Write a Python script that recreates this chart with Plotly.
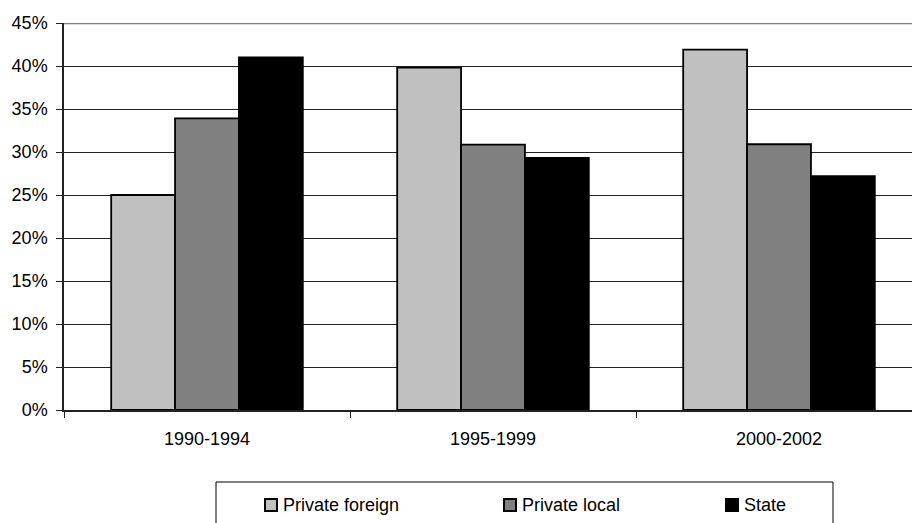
import plotly.graph_objects as go

# ---- data ----
periods = ["1990-1994", "1995-1999", "2000-2002"]
series_names = ["Private foreign", "Private local", "State"]
private_foreign = [25.0, 39.8, 41.9]
private_local = [33.9, 30.85, 30.9]
state = [41.0, 29.3, 27.2]
series_values = [private_foreign, private_local, state]
series_colors = ["#C0C0C0", "#808080", "#000000"]
y_tick_vals = [0, 5, 10, 15, 20, 25, 30, 35, 40, 45]
y_tick_text = ["0%", "5%", "10%", "15%", "20%", "25%", "30%", "35%", "40%", "45%"]

# ---- layout geometry (pixels) ----
W, H = 912, 523
L, R, T, B = 64, 0, 23, 113
PW = W - L - R
PH = H - T - B
CAT_W = 286.0  # pixels per category
FONT = "Liberation Sans, Arial, sans-serif"


def px_x(px):
    return (px - L) / PW


def px_y(py):
    return (H - B - py) / PH


fig = go.Figure()
for name, vals, col in zip(series_names, series_values, series_colors):
    fig.add_trace(go.Bar(
        x=periods, y=vals, name=name,
        marker=dict(color=col, line=dict(color="#000000", width=1.8)),
        showlegend=False,
    ))

shapes = []
# top border (45% line) in grey
shapes.append(dict(type="line", xref="paper", yref="y", x0=0, x1=1, y0=45, y1=45,
                   line=dict(color="#808080", width=2.5), layer="above"))

# legend box
shapes.append(dict(type="rect", xref="paper", yref="paper",
                   x0=px_x(216), x1=px_x(833), y0=px_y(540), y1=px_y(482),
                   line=dict(color="#000000", width=1), fillcolor="rgba(0,0,0,0)"))

annotations = []
sw_x = [265, 504, 726]
tx_x = [282, 521, 743]
cy = 505
for name, col, sx, tx in zip(series_names, series_colors, sw_x, tx_x):
    shapes.append(dict(type="rect", xref="paper", yref="paper",
                       x0=px_x(sx), x1=px_x(sx + 12), y0=px_y(cy + 6), y1=px_y(cy - 6),
                       line=dict(color="#000000", width=2), fillcolor=col))
    annotations.append(dict(xref="paper", yref="paper", x=px_x(tx), y=px_y(cy),
                            text=name, showarrow=False, xanchor="left", yanchor="middle",
                            font=dict(family=FONT, size=18, color="#000000"), borderpad=0))

fig.update_layout(
    width=W, height=H,
    margin=dict(l=L, r=R, t=T, b=B, pad=0),
    paper_bgcolor="white", plot_bgcolor="white",
    barmode="group", bargap=0.33, bargroupgap=0,
    font=dict(family=FONT, size=18, color="#000000"),
    shapes=shapes, annotations=annotations,
    xaxis=dict(
        type="category", range=[-0.5, -0.5 + PW / CAT_W],
        showline=True, linecolor="#222222", linewidth=1.5,
        ticks="outside", tickson="boundaries", ticklen=6, tickcolor="#222222",
        showgrid=False, ticklabelstandoff=12,
        tickfont=dict(family=FONT, size=18, color="#000000"),
    ),
    yaxis=dict(
        range=[0, 45], tickvals=y_tick_vals, ticktext=y_tick_text,
        showline=True, linecolor="#222222", linewidth=1.5,
        ticks="outside", ticklen=6, tickcolor="#222222",
        showgrid=True, gridcolor="#222222", gridwidth=1,
        zeroline=False, ticklabelstandoff=5,
        tickfont=dict(family=FONT, size=18, color="#000000"),
    ),
)

fig.write_html("out.html")
